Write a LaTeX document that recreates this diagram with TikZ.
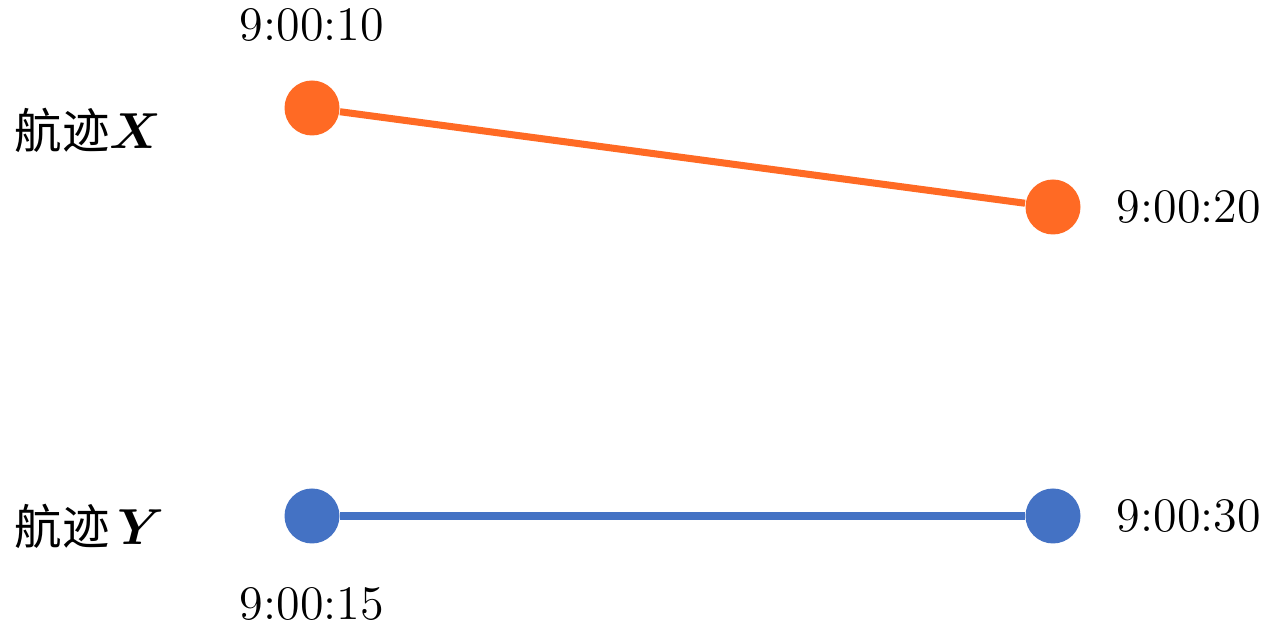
\documentclass[tikz,border=0pt]{standalone}
\usepackage{fontspec}
\usepackage{bm}
\usepackage{tikz}
\usetikzlibrary{positioning}
\newfontfamily\cjk{Noto Sans CJK SC}
\definecolor{trackorange}{RGB}{255,106,36}
\definecolor{trackblue}{RGB}{68,114,196}

\begin{document}
\begin{tikzpicture}[x=0.1mm,y=-0.1mm,
  dot/.style={circle,fill=#1,inner sep=0pt,minimum size=5.5mm},
  tlabel/.style={font=\fontsize{13.7}{16}\selectfont,inner sep=0pt},
  tname/.style={font=\fontsize{13.5}{16}\selectfont,inner sep=0pt,anchor=west}]
\useasboundingbox (0,0) rectangle (1280,630);
% track X
\node[dot=trackorange] (x1) at (312,108) {};
\node[dot=trackorange] (x2) at (1053,207) {};
\draw[trackorange,line width=2pt] (x1) -- (x2);
% track Y
\node[dot=trackblue] (y1) at (312,516) {};
\node[dot=trackblue] (y2) at (1053,516) {};
\draw[trackblue,line width=2pt] (y1) -- (y2);
% times
\node[tlabel,above=3.8mm of x1] (tx1) {9:00:10};
\node[tlabel,right=3.5mm of x2] (tx2) {9:00:20};
\node[tlabel,right=3.5mm of y2] (ty2) {9:00:30};
\node[tlabel,below=4.3mm of y1] (ty1) {9:00:15};
% names
\node[tname] (nx) at (14,130) {{\cjk 航迹}$\bm{X}$};
\node[tname] (ny) at (14,526) {{\cjk 航迹}\,$\bm{Y}$};
\end{tikzpicture}
\end{document}
